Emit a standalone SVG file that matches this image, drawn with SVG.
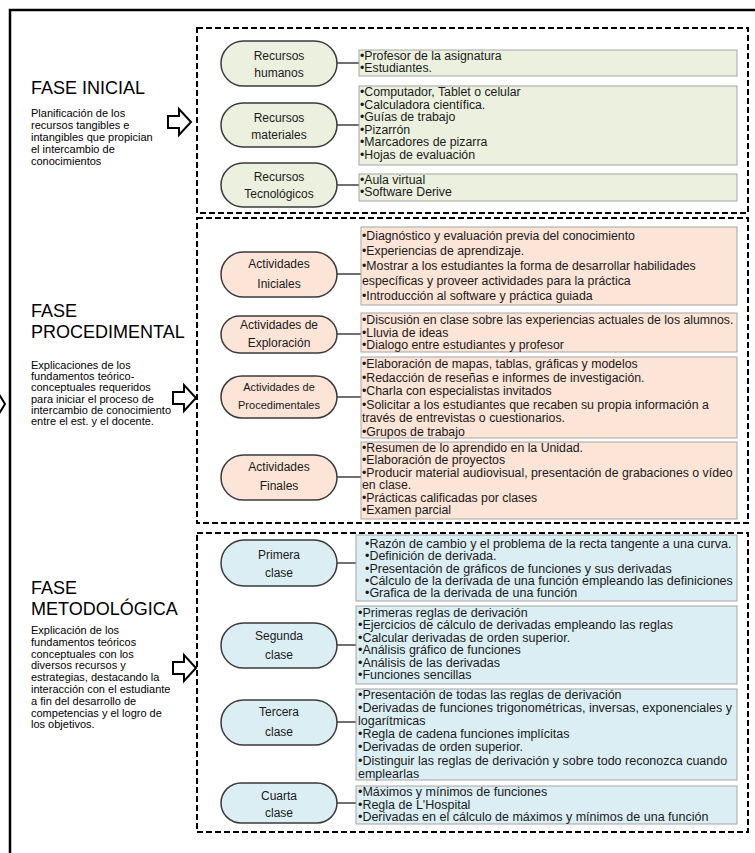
<svg xmlns="http://www.w3.org/2000/svg" width="755" height="853" viewBox="0 0 755 853">
<style>
.frame{fill:none;stroke:#000;stroke-width:2.5}
.dash{fill:none;stroke:#000;stroke-width:2;stroke-dasharray:6,3}
.arrow{fill:#fff;stroke:#000;stroke-width:2;stroke-linejoin:miter}
.title{font-family:"Liberation Sans",Arial,sans-serif;font-size:18px;fill:#000}
.desc{font-family:"Liberation Sans",Arial,sans-serif;font-size:11px;fill:#000}
.pill{stroke:#3a3a3a;stroke-width:1.5}
.box{stroke:#a6a6a6;stroke-width:1}
.g{fill:#ebf1de}
.o{fill:#fce4d6}
.b{fill:#daeef3}
.pt{font-family:"Liberation Sans",Arial,sans-serif;font-size:12px;fill:#1a1a1a;text-anchor:middle}
.bt{font-family:"Liberation Sans",Arial,sans-serif;font-size:12.3px;fill:#1a1a1a}
.bt3{font-family:"Liberation Sans",Arial,sans-serif;font-size:12.5px;fill:#1a1a1a}
.conn line{stroke:#404040;stroke-width:1.5}
</style>
<rect width="755" height="853" fill="#fff"/>
<path class="frame" d="M10,853 V10 H760"/>
<path class="arrow" d="M-12,398 H-3 V391 L5,404 L-3,417 V410 H-12 Z"/>

<g id="fase-inicial">
<text class="title" x="31" y="94">FASE INICIAL</text>
<text class="desc" x="31" y="117"><tspan x="31">Planificación de los</tspan><tspan x="31" dy="12">recursos tangibles e</tspan><tspan x="31" dy="12">intangibles que propician</tspan><tspan x="31" dy="12">el intercambio de</tspan><tspan x="31" dy="12">conocimientos</tspan></text>
<path class="arrow" d="M168,116 H179 V109 L191,122 L179,135 V128 H168 Z"/>
<rect class="dash" x="197" y="28" width="551" height="185"/>
</g>

<g id="fase-procedimental">
<text class="title" x="31" y="317">FASE</text>
<text class="title" x="31" y="338">PROCEDIMENTAL</text>
<text class="desc" x="31" y="369"><tspan x="31">Explicaciones de los</tspan><tspan x="31" dy="11.2">fundamentos teórico-</tspan><tspan x="31" dy="11.2">conceptuales requeridos</tspan><tspan x="31" dy="11.2">para iniciar el proceso de</tspan><tspan x="31" dy="11.2">intercambio de conocimiento</tspan><tspan x="31" dy="11.2">entre el est. y el docente.</tspan></text>
<path class="arrow" d="M173,392 H184 V385 L196,398 L184,411 V404 H173 Z"/>
<rect class="dash" x="197" y="218" width="551" height="305"/>
</g>

<g id="fase-metodologica">
<text class="title" x="31" y="594">FASE</text>
<text class="title" x="31" y="615">METODOLÓGICA</text>
<text class="desc" x="31" y="634"><tspan x="31">Explicación de los</tspan><tspan x="31" dy="11.8">fundamentos teóricos</tspan><tspan x="31" dy="11.8">conceptuales con los</tspan><tspan x="31" dy="11.8">diversos recursos y</tspan><tspan x="31" dy="11.8">estrategias, destacando la</tspan><tspan x="31" dy="11.8">interacción con el estudiante</tspan><tspan x="31" dy="11.8">a fin del desarrollo de</tspan><tspan x="31" dy="11.8">competencias y el logro de</tspan><tspan x="31" dy="11.8">los objetivos.</tspan></text>
<path class="arrow" d="M173,662 H184 V655 L196,668 L184,681 V674 H173 Z"/>
<rect class="dash" x="197" y="533" width="551" height="299"/>
</g>

<g id="connectors" class="conn">
<line x1="337" y1="63" x2="359" y2="63"/>
<line x1="337" y1="125" x2="359" y2="125"/>
<line x1="337" y1="185" x2="359" y2="185"/>
<line x1="337" y1="274" x2="361" y2="274"/>
<line x1="337" y1="334" x2="361" y2="334"/>
<line x1="337" y1="397" x2="361" y2="397"/>
<line x1="337" y1="477" x2="361" y2="477"/>
<line x1="337" y1="563" x2="356" y2="563"/>
<line x1="337" y1="645" x2="356" y2="645"/>
<line x1="337" y1="722" x2="356" y2="722"/>
<line x1="337" y1="803" x2="356" y2="803"/>
</g>

<g id="recursos-humanos">
<rect class="pill g" x="221" y="41" width="116" height="45" rx="22.5"/>
<text class="pt" x="279" y="60">Recursos</text><text class="pt" x="279" y="77">humanos</text>
</g>
<g id="recursos-humanos-items">
<rect class="box g" x="359" y="50" width="378" height="26"/>
<text class="bt" x="360" y="59.5"><tspan x="360">•Profesor de la asignatura</tspan><tspan x="360" dy="12.5">•Estudiantes.</tspan></text>
</g>
<g id="recursos-materiales">
<rect class="pill g" x="221" y="103" width="116" height="44" rx="22"/>
<text class="pt" x="279" y="122">Recursos</text><text class="pt" x="279" y="139">materiales</text>
</g>
<g id="recursos-materiales-items">
<rect class="box g" x="359" y="86" width="378" height="79"/>
<text class="bt" x="360" y="96"><tspan x="360">•Computador, Tablet o celular</tspan><tspan x="360" dy="12.6">•Calculadora científica.</tspan><tspan x="360" dy="12.6">•Guías de trabajo</tspan><tspan x="360" dy="12.6">•Pizarrón</tspan><tspan x="360" dy="12.6">•Marcadores de pizarra</tspan><tspan x="360" dy="12.6">•Hojas de evaluación</tspan></text>
</g>
<g id="recursos-tecnologicos">
<rect class="pill g" x="221" y="163" width="116" height="44" rx="22"/>
<text class="pt" x="279" y="181">Recursos</text><text class="pt" x="279" y="198">Tecnológicos</text>
</g>
<g id="recursos-tecnologicos-items">
<rect class="box g" x="359" y="174" width="378" height="27"/>
<text class="bt" x="360" y="183.5"><tspan x="360">•Aula virtual</tspan><tspan x="360" dy="12.5">•Software Derive</tspan></text>
</g>

<g id="actividades-iniciales">
<rect class="pill o" x="221" y="252" width="116" height="45" rx="22.5"/>
<text class="pt" x="279" y="268">Actividades</text><text class="pt" x="279" y="288">Iniciales</text>
</g>
<g id="actividades-iniciales-items">
<rect class="box o" x="361" y="227" width="376" height="78"/>
<text class="bt" x="362" y="240"><tspan x="362">•Diagnóstico y evaluación previa del conocimiento</tspan><tspan x="362" dy="15">•Experiencias de aprendizaje.</tspan><tspan x="362" dy="15">•Mostrar a los estudiantes la forma de desarrollar habilidades</tspan><tspan x="362" dy="15">específicas y proveer actividades para la práctica</tspan><tspan x="362" dy="15">•Introducción al software y práctica guiada</tspan></text>
</g>
<g id="actividades-exploracion">
<rect class="pill o" x="221" y="316" width="116" height="37" rx="18.5"/>
<text class="pt" x="279" y="329">Actividades de</text><text class="pt" x="279" y="347">Exploración</text>
</g>
<g id="actividades-exploracion-items">
<rect class="box o" x="361" y="313" width="376" height="39"/>
<text class="bt" x="362" y="324"><tspan x="362">•Discusión en clase sobre las experiencias actuales de los alumnos.</tspan><tspan x="362" dy="12.5">•Lluvia de ideas</tspan><tspan x="362" dy="12.5">•Dialogo entre estudiantes y profesor</tspan></text>
</g>
<g id="actividades-procedimentales">
<rect class="pill o" x="221" y="376" width="116" height="42" rx="21"/>
<text class="pt" x="279" y="391" style="font-size:11px">Actividades de</text><text class="pt" x="279" y="409" style="font-size:11px">Procedimentales</text>
</g>
<g id="actividades-procedimentales-items">
<rect class="box o" x="361" y="357" width="376" height="81"/>
<text class="bt" x="362" y="368"><tspan x="362">•Elaboración de mapas, tablas, gráficas y modelos</tspan><tspan x="362" dy="13.6">•Redacción de reseñas e informes de investigación.</tspan><tspan x="362" dy="13.6">•Charla con especialistas invitados</tspan><tspan x="362" dy="13.6">•Solicitar a los estudiantes que recaben su propia información a</tspan><tspan x="362" dy="13.6">través de entrevistas o cuestionarios.</tspan><tspan x="362" dy="13.6">•Grupos de trabajo</tspan></text>
</g>
<g id="actividades-finales">
<rect class="pill o" x="221" y="455" width="116" height="45" rx="22.5"/>
<text class="pt" x="279" y="471">Actividades</text><text class="pt" x="279" y="490">Finales</text>
</g>
<g id="actividades-finales-items">
<rect class="box o" x="361" y="442" width="376" height="77"/>
<text class="bt" x="362" y="452"><tspan x="362">•Resumen de lo aprendido en la Unidad.</tspan><tspan x="362" dy="12.4">•Elaboración de proyectos</tspan><tspan x="362" dy="12.4">•Producir material audiovisual, presentación de grabaciones o vídeo</tspan><tspan x="362" dy="12.4">en clase.</tspan><tspan x="362" dy="12.4">•Prácticas calificadas  por clases</tspan><tspan x="362" dy="12.4">•Examen parcial</tspan></text>
</g>

<g id="primera-clase">
<rect class="pill b" x="221" y="540" width="116" height="46" rx="23"/>
<text class="pt" x="279" y="559">Primera</text><text class="pt" x="279" y="577">clase</text>
</g>
<g id="primera-clase-items">
<rect class="box b" x="356" y="535" width="381" height="66"/>
<text class="bt3" x="365" y="548"><tspan x="365">•Razón de cambio y el problema de la recta tangente a una curva.</tspan><tspan x="365" dy="12.3">•Definición de derivada.</tspan><tspan x="365" dy="12.3">•Presentación de gráficos de funciones y sus derivadas</tspan><tspan x="365" dy="12.3">•Cálculo de la derivada de una función empleando las definiciones</tspan><tspan x="365" dy="12.3">•Grafica de la derivada de una función</tspan></text>
</g>
<g id="segunda-clase">
<rect class="pill b" x="221" y="623" width="116" height="45" rx="22.5"/>
<text class="pt" x="279" y="640">Segunda</text><text class="pt" x="279" y="659">clase</text>
</g>
<g id="segunda-clase-items">
<rect class="box b" x="356" y="606" width="381" height="78"/>
<text class="bt3" x="358" y="617"><tspan x="358">•Primeras reglas de derivación</tspan><tspan x="358" dy="12.4">•Ejercicios de cálculo de derivadas empleando las reglas</tspan><tspan x="358" dy="12.4">•Calcular derivadas de orden superior.</tspan><tspan x="358" dy="12.4">•Análisis gráfico de funciones</tspan><tspan x="358" dy="12.4">•Análisis de las derivadas</tspan><tspan x="358" dy="12.4">•Funciones sencillas</tspan></text>
</g>
<g id="tercera-clase">
<rect class="pill b" x="221" y="700" width="116" height="45" rx="22.5"/>
<text class="pt" x="279" y="716">Tercera</text><text class="pt" x="279" y="736">clase</text>
</g>
<g id="tercera-clase-items">
<rect class="box b" x="356" y="689" width="381" height="91"/>
<text class="bt3" x="358" y="699"><tspan x="358">•Presentación de todas las reglas de derivación</tspan><tspan x="358" dy="13.1">•Derivadas de funciones trigonométricas, inversas, exponenciales y</tspan><tspan x="358" dy="13.1">logarítmicas</tspan><tspan x="358" dy="13.1">•Regla de cadena funciones implícitas</tspan><tspan x="358" dy="13.1">•Derivadas de orden superior.</tspan><tspan x="358" dy="13.1">•Distinguir las reglas de derivación y sobre todo reconozca cuando</tspan><tspan x="358" dy="13.1">emplearlas</tspan></text>
</g>
<g id="cuarta-clase">
<rect class="pill b" x="221" y="783" width="116" height="40" rx="20"/>
<text class="pt" x="279" y="800">Cuarta</text><text class="pt" x="279" y="817">clase</text>
</g>
<g id="cuarta-clase-items">
<rect class="box b" x="356" y="786" width="381" height="38"/>
<text class="bt3" x="358" y="796"><tspan x="358">•Máximos y mínimos de funciones</tspan><tspan x="358" dy="12.5">•Regla de L'Hospital</tspan><tspan x="358" dy="12.5">•Derivadas en el cálculo de máximos y mínimos de una función</tspan></text>
</g>
</svg>
